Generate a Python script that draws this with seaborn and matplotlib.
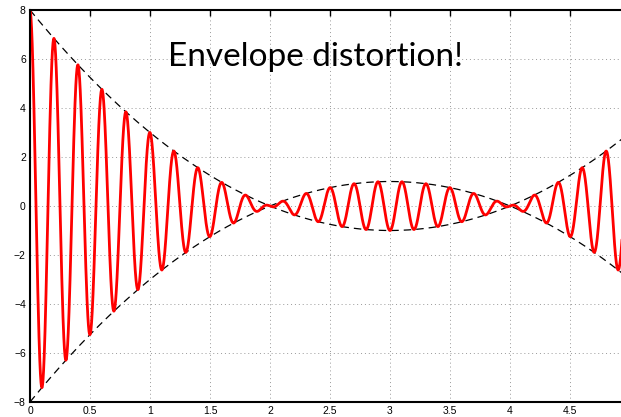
import numpy as np
import pandas as pd
import matplotlib
matplotlib.use("Agg")
import matplotlib.pyplot as plt
import seaborn as sns

# Values
envelope_roots = [2.0, 4.0]      # envelope crosses zero at x=2 and x=4 (value 8 at x=0, -1 at x=3)
carrier_freq = 5.0               # peaks every 0.2
x_range = [0.0, 5.0]
x_ticks = [0, 0.5, 1, 1.5, 2, 2.5, 3, 3.5, 4, 4.5]
x_tick_labels = ["0", "0.5", "1", "1.5", "2", "2.5", "3", "3.5", "4", "4.5"]
y_ticks = [-8, -6, -4, -2, 0, 2, 4, 6, 8]
y_tick_labels = ["\u22128", "\u22126", "\u22124", "\u22122", "0", "2", "4", "6", "8"]
title_text = "Envelope distortion!"

x = np.linspace(x_range[0], x_range[1], 3000)
env = (x - envelope_roots[0]) * (x - envelope_roots[1])
sig = env * np.cos(2 * np.pi * carrier_freq * x)
df = pd.DataFrame({"x": x, "env": env, "neg": -env, "sig": sig})

sns.set_style("white")
plt.rcParams['font.family'] = ['Liberation Sans', 'DejaVu Sans']

fig = plt.figure(figsize=(6.21, 4.17), dpi=100)
W, H = 621, 417
ax = fig.add_axes([30 / W, 15 / H, 600 / W, 392 / H])

sns.lineplot(data=df, x="x", y="env", ax=ax, color="black", lw=0.9, linestyle=(0, (6, 4)))
sns.lineplot(data=df, x="x", y="neg", ax=ax, color="black", lw=0.9, linestyle=(0, (6, 4)))
sns.lineplot(data=df, x="x", y="sig", ax=ax, color="#ff0000", lw=2.0)

ax.set_xlim(*x_range)
ax.set_ylim(-8, 8)
ax.set_xticks(x_ticks)
ax.set_xticklabels(x_tick_labels)
ax.set_yticks(y_ticks)
ax.set_yticklabels(y_tick_labels)
ax.set_xlabel("")
ax.set_ylabel("")
ax.grid(True, color="#999999", linestyle=(0, (1, 3)), lw=0.7)
ax.tick_params(direction="in", length=4, width=1, labelsize=7.5, top=True, right=True,
               colors="black", pad=3)
for s in ax.spines.values():
    s.set_color("black")
    s.set_linewidth(1.5)

ax.text(2.375, 6.08, title_text, fontsize=24, family=["Lato", "DejaVu Sans"],
        ha="center", va="center", color="black")

fig.savefig("out.png", dpi=100)
